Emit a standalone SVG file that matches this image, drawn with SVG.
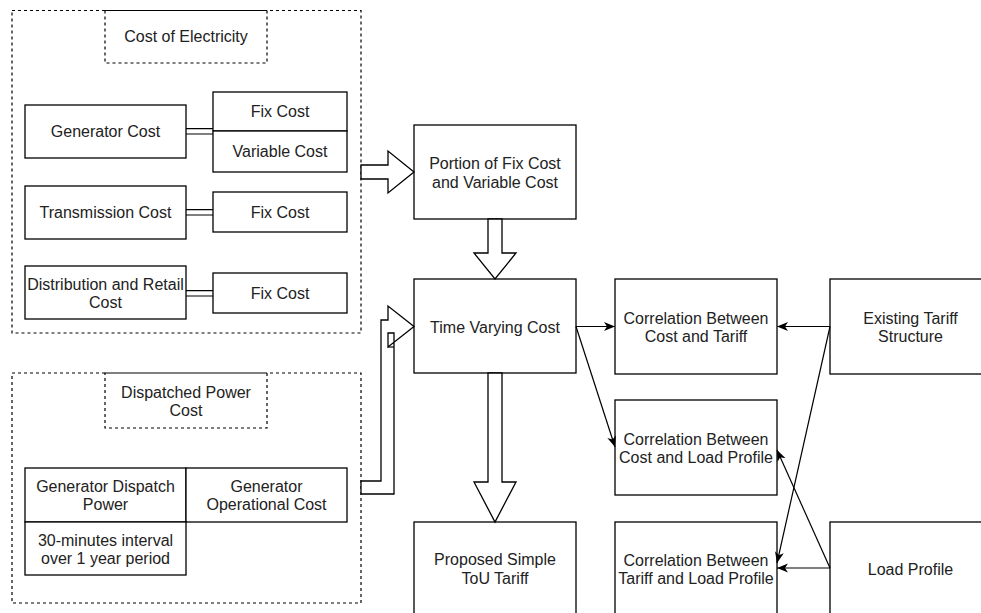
<svg xmlns="http://www.w3.org/2000/svg" width="981" height="613" viewBox="0 0 981 613">
<defs>
<style>
.box{fill:#fff;stroke:#000;stroke-width:1.3}
.dash{fill:none;stroke:#000;stroke-width:1.2;stroke-dasharray:3 3}
.ln{fill:none;stroke:#000;stroke-width:1.2}
.blk{fill:#fff;stroke:#000;stroke-width:1.3;stroke-linejoin:miter}
text{font-family:"Liberation Sans",Arial,Helvetica,sans-serif;font-size:16px;fill:#222;text-anchor:middle}
</style>
<marker id="ah" markerUnits="userSpaceOnUse" markerWidth="12" markerHeight="10" refX="11" refY="4.5" orient="auto">
<path d="M0,0 L11,4.5 L0,9 L3,4.5 z" fill="#000"/>
</marker>
</defs>
<rect width="981" height="613" fill="#fff"/>

<g id="group-cost-of-electricity">
<rect class="dash" x="12" y="10.5" width="349" height="322.5"/>
</g>
<g id="label-cost-of-electricity">
<rect class="dash" x="105" y="10.5" width="162" height="52.5"/>
<text x="186" y="42">Cost of Electricity</text>
</g>
<g id="generator-cost">
<rect class="box" x="25" y="105" width="161" height="53"/>
<text x="105.5" y="137">Generator Cost</text>
</g>
<g id="gen-fix-cost">
<rect class="box" x="213" y="92" width="134" height="39"/>
<text x="280" y="117">Fix Cost</text>
</g>
<g id="gen-variable-cost">
<rect class="box" x="213" y="131" width="134" height="41"/>
<text x="280" y="157">Variable Cost</text>
</g>
<g id="transmission-cost">
<rect class="box" x="25" y="186" width="161" height="53"/>
<text x="105.5" y="218">Transmission Cost</text>
</g>
<g id="trans-fix-cost">
<rect class="box" x="213" y="192" width="134" height="40"/>
<text x="280" y="218">Fix Cost</text>
</g>
<g id="distribution-cost">
<rect class="box" x="25" y="266" width="161" height="53"/>
<text x="105.5" y="289.5">Distribution and Retail</text>
<text x="105.5" y="307.5">Cost</text>
</g>
<g id="dist-fix-cost">
<rect class="box" x="213" y="273" width="134" height="40"/>
<text x="280" y="299">Fix Cost</text>
</g>

<g id="group-dispatched">
<rect class="dash" x="12" y="373" width="349" height="230"/>
</g>
<g id="label-dispatched">
<rect class="dash" x="105" y="373" width="162" height="55"/>
<text x="186" y="397.5">Dispatched Power</text>
<text x="186" y="415.5">Cost</text>
</g>
<g id="gen-dispatch-power">
<rect class="box" x="25" y="468" width="161" height="54"/>
<text x="105.5" y="491.5">Generator Dispatch</text>
<text x="105.5" y="509.5">Power</text>
</g>
<g id="gen-operational-cost">
<rect class="box" x="186" y="468" width="161" height="54"/>
<text x="266.5" y="491.5">Generator</text>
<text x="266.5" y="509.5">Operational Cost</text>
</g>
<g id="interval">
<rect class="box" x="25" y="522" width="161" height="53"/>
<text x="105.5" y="545.5">30-minutes interval</text>
<text x="105.5" y="563.5">over 1 year period</text>
</g>

<g id="portion-cost">
<rect class="box" x="414" y="125" width="162" height="94"/>
<text x="495" y="168.5">Portion of Fix Cost</text>
<text x="495" y="187.5">and Variable Cost</text>
</g>
<g id="time-varying-cost">
<rect class="box" x="414" y="279" width="162" height="94"/>
<text x="495" y="332.5">Time Varying Cost</text>
</g>
<g id="proposed-tariff">
<rect class="box" x="414" y="522" width="162" height="94"/>
<text x="495" y="564.5">Proposed Simple</text>
<text x="495" y="583.5">ToU Tariff</text>
</g>
<g id="corr-cost-tariff">
<rect class="box" x="615" y="279" width="162" height="95"/>
<text x="696" y="323.5">Correlation Between</text>
<text x="696" y="341.5">Cost and Tariff</text>
</g>
<g id="corr-cost-load">
<rect class="box" x="615" y="400" width="162" height="95"/>
<text x="696" y="444.5">Correlation Between</text>
<text x="696" y="462.5">Cost and Load Profile</text>
</g>
<g id="corr-tariff-load">
<rect class="box" x="615" y="522" width="162" height="95"/>
<text x="696" y="565.5">Correlation Between</text>
<text x="696" y="583.5">Tariff and Load Profile</text>
</g>
<g id="existing-tariff">
<rect class="box" x="830" y="279" width="162" height="95"/>
<text x="910.5" y="323.5">Existing Tariff</text>
<text x="910.5" y="341.5">Structure</text>
</g>
<g id="load-profile">
<rect class="box" x="830" y="522" width="162" height="95"/>
<text x="910.5" y="574.5">Load Profile</text>
</g>

<g id="connectors">
<!-- double-line links -->
<path class="ln" d="M186,128.7 H213 M186,134 H213"/>
<path class="ln" d="M186,209.7 H213 M186,215 H213"/>
<path class="ln" d="M186,290.7 H213 M186,296 H213"/>
<!-- block arrows -->
<path class="blk" d="M361,165 H388 V151 L414,172 L388,193 V179 H361 Z"/>
<path class="blk" d="M488,219 V253 H474 L495,279 L516,253 H502 V219 Z"/>
<path class="blk" d="M488,373 V482 H474 L495,522 L516,482 H502 V373 Z"/>
<path class="blk" d="M361,481 H381 V320 H388 V306 L414,326.5 L388,347 V333 H394 V494 H361 Z"/>
<path class="ln" d="M388,347 H394"/>
<!-- thin arrows -->
<path class="ln" d="M576,326.5 H615" marker-end="url(#ah)"/>
<path class="ln" d="M576,326.5 L615,447" marker-end="url(#ah)"/>
<path class="ln" d="M830,326.5 H777" marker-end="url(#ah)"/>
<path class="ln" d="M830,326.5 L777,563" marker-end="url(#ah)"/>
<path class="ln" d="M830,568 H777" marker-end="url(#ah)"/>
<path class="ln" d="M830,568 L777,450" marker-end="url(#ah)"/>
</g>
</svg>
